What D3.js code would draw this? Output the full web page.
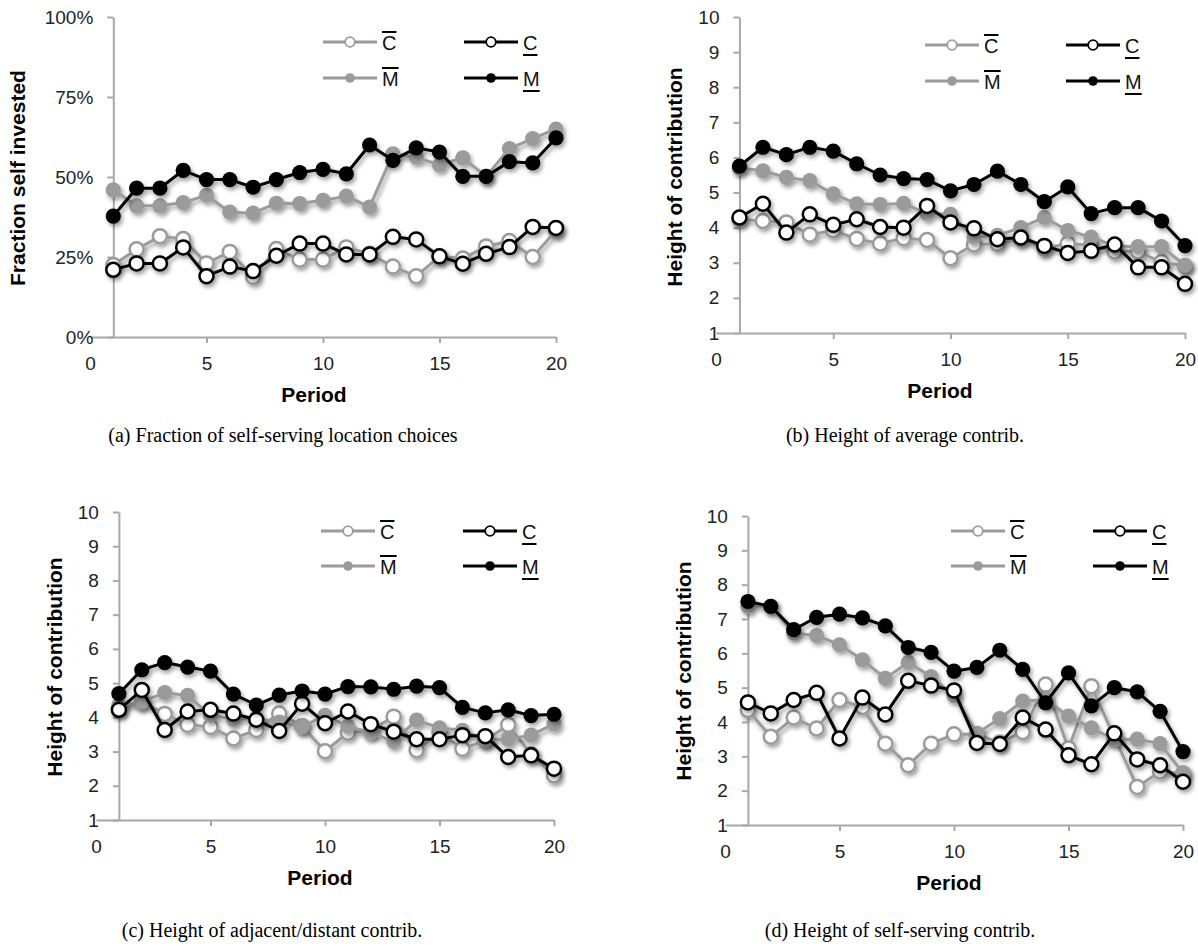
<!DOCTYPE html>
<html>
<head>
<meta charset="utf-8">
<script src="https://cdn.jsdelivr.net/npm/d3@7"></script>
<style>
body { margin: 0; background: #fff; }
text { font-family: "Liberation Sans", Arial, sans-serif; }
</style>
</head>
<body>
<div id="chart"></div>
<script>
var width = 1198, height = 949;

var periods = [1,2,3,4,5,6,7,8,9,10,11,12,13,14,15,16,17,18,19,20];
var xTicks = [0,5,10,15,20];
var fracTicks = [0,25,50,75,100];
var heightTicks = [1,2,3,4,5,6,7,8,9,10];

// legend names: letter + bar position
var seriesKeys = ["Cbar","Mbar","C","M"];
var seriesLetters = {Cbar: "C", Mbar: "M", C: "C", M: "M"};

// (a) fraction self invested, in %
var aCbar = [22.5,27.4,31.5,30.6,23,26.6,18.8,27.5,24.2,24.2,28,26,22,19,25.2,24.5,28.3,30,25,33.3];
var aC    = [21,23,23,28,19,22,20.6,25.4,29.2,29.2,25.8,25.8,31.3,30.5,25.2,22.9,26,28.1,34.4,34.1];
var aMbar = [46,41,41,42,44.3,39,38.7,41.8,41.7,42.7,44,40.6,57.2,56.2,53.8,56,50.2,58.9,62,65];
var aM    = [37.8,46.5,46.5,52.1,49.2,49.2,46.8,49.2,51.4,52.4,51,60,55.2,59.1,57.8,50.2,50.2,54.8,54.4,62.2];

// (b) height of average contribution
var bCbar = [4.24,4.19,4.15,3.8,3.92,3.68,3.55,3.7,3.65,3.13,3.52,3.54,3.68,3.4,3.55,3.5,3.32,3.32,3.02,2.9];
var bC    = [4.29,4.68,3.86,4.38,4.08,4.24,4.02,4.0,4.62,4.15,3.98,3.67,3.72,3.48,3.28,3.34,3.52,2.87,2.87,2.4];
var bMbar = [5.7,5.62,5.43,5.34,4.96,4.68,4.66,4.69,4.4,4.38,3.73,3.78,4.0,4.29,3.92,3.73,3.48,3.46,3.46,2.93];
var bM    = [5.75,6.29,6.08,6.29,6.18,5.82,5.5,5.4,5.37,5.05,5.23,5.61,5.23,4.74,5.16,4.4,4.57,4.57,4.19,3.49];

// (c) height of adjacent/distant contribution
var cCbar = [4.25,4.45,4.1,3.78,3.72,3.38,3.63,4.11,3.75,3.01,3.55,3.62,4.02,3.04,3.55,3.08,3.32,3.78,2.92,2.3];
var cC    = [4.22,4.8,3.63,4.17,4.22,4.11,3.93,3.6,4.4,3.83,4.17,3.8,3.58,3.36,3.36,3.48,3.45,2.84,2.89,2.5];
var cMbar = [4.34,4.45,4.72,4.64,4.06,3.94,3.96,3.86,3.73,4.06,3.74,3.55,3.3,3.92,3.69,3.62,3.34,3.36,3.48,3.81];
var cM    = [4.69,5.39,5.6,5.47,5.35,4.68,4.36,4.65,4.77,4.68,4.9,4.89,4.82,4.91,4.87,4.29,4.13,4.22,4.05,4.09];

// (d) height of self-serving contribution
var dCbar = [4.35,3.57,4.13,3.81,4.64,4.44,3.37,2.74,3.37,3.64,3.64,3.4,3.71,5.09,3.23,5.04,3.57,2.11,2.56,2.5];
var dC    = [4.57,4.25,4.64,4.85,3.52,4.71,4.22,5.2,5.06,4.92,3.39,3.36,4.13,3.78,3.03,2.77,3.67,2.91,2.74,2.26];
var dMbar = [7.37,7.37,6.59,6.52,6.25,5.81,5.27,5.74,5.32,4.77,3.67,4.1,4.61,4.65,4.17,3.83,3.49,3.5,3.37,2.52];
var dM    = [7.51,7.37,6.69,7.05,7.14,7.03,6.8,6.17,6.03,5.48,5.59,6.09,5.53,4.56,5.43,4.47,5.0,4.88,4.31,3.14];

var grey = "#9b9b9b";
var axisColor = "#a8a8a8";

var styles = {
	Cbar: {color: grey, filled: false, bar: "over"},
	Mbar: {color: grey, filled: true, bar: "over"},
	C:    {color: "#000", filled: false, bar: "under"},
	M:    {color: "#000", filled: true, bar: "under"}
};

var svg = d3.select("#chart").append("svg")
	.attr("width", width)
	.attr("height", height)
	.attr("xmlns", "http://www.w3.org/2000/svg");

svg.append("defs").append("filter")
	.attr("id", "shadow")
	.attr("x", "-20%").attr("y", "-20%")
	.attr("width", "140%").attr("height", "140%")
	.append("feDropShadow")
	.attr("dx", 2)
	.attr("dy", 3)
	.attr("stdDeviation", 2)
	.attr("flood-color", "#000")
	.attr("flood-opacity", 0.38);

var panels = [
	{x0: 90, x20: 556, yBot: 337, yTop: 17, domain: [0,100], ticks: fracTicks, fmt: function(d){ return d + "%"; },
	 yTitle: "Fraction self invested", yTitleX: 18, yTitleY: 178,
	 legX: [323, 464], legY: [42, 78],
	 data: {Cbar: aCbar, C: aC, Mbar: aMbar, M: aM},
	 caption: "(a) Fraction of self-serving location choices", capX: 283, capY: 435},
	{x0: 716, x20: 1185, yBot: 333, yTop: 17, domain: [1,10], ticks: heightTicks, fmt: String,
	 yTitle: "Height of contribution", yTitleX: 675, yTitleY: 177,
	 legX: [925, 1066], legY: [45, 81],
	 data: {Cbar: bCbar, C: bC, Mbar: bMbar, M: bM},
	 caption: "(b) Height of average contrib.", capX: 905, capY: 435},
	{x0: 96, x20: 554, yBot: 820, yTop: 512, domain: [1,10], ticks: heightTicks, fmt: String,
	 yTitle: "Height of contribution", yTitleX: 55, yTitleY: 667,
	 legX: [321, 463], legY: [531, 566],
	 data: {Cbar: cCbar, C: cC, Mbar: cMbar, M: cM},
	 caption: "(c) Height of adjacent/distant contrib.", capX: 272, capY: 930},
	{x0: 725, x20: 1183, yBot: 825, yTop: 516, domain: [1,10], ticks: heightTicks, fmt: String,
	 yTitle: "Height of contribution", yTitleX: 684, yTitleY: 671,
	 legX: [951, 1093], legY: [531, 566],
	 data: {Cbar: dCbar, C: dC, Mbar: dMbar, M: dM},
	 caption: "(d) Height of self-serving contrib.", capX: 900, capY: 930}
];

panels.forEach(drawPanel);

function drawPanel(p) {
	var g = svg.append("g");
	var x = d3.scaleLinear().domain([0, 20]).range([p.x0, p.x20]);
	var y = d3.scaleLinear().domain(p.domain).range([p.yBot, p.yTop]);

	// x axis
	var xAxis = g.append("g")
		.attr("transform", "translate(0," + p.yBot + ")")
		.call(d3.axisBottom(x).tickValues(xTicks).tickSize(6).tickSizeOuter(0).tickPadding(14));
	xAxis.selectAll(".tick").filter(function(d){ return d === 0; }).select("line").remove();

	// y axis crosses at period 1
	var yAxis = g.append("g")
		.attr("transform", "translate(" + x(1) + ",0)")
		.call(d3.axisLeft(y).tickValues(p.ticks).tickFormat(p.fmt).tickSize(6).tickSizeOuter(0).tickPadding(14));

	[xAxis, yAxis].forEach(function(a){
		a.select(".domain").attr("stroke", axisColor).attr("stroke-width", 2);
		a.selectAll(".tick line").attr("stroke", axisColor).attr("stroke-width", 2);
		a.selectAll(".tick text")
			.attr("fill", "#222")
			.style("font-size", "19px")
			.style("font-family", "'Liberation Sans', Arial, sans-serif");
	});

	// axis titles
	g.append("text")
		.attr("transform", "translate(" + p.yTitleX + "," + p.yTitleY + ") rotate(-90)")
		.attr("text-anchor", "middle")
		.attr("dy", "0.35em")
		.style("font-size", "21px")
		.style("font-weight", "bold")
		.attr("fill", "#000")
		.text(p.yTitle);

	g.append("text")
		.attr("x", p.x0 + 224)
		.attr("y", p.yBot + 58)
		.attr("dy", "0.35em")
		.attr("text-anchor", "middle")
		.style("font-size", "21px")
		.style("font-weight", "bold")
		.attr("fill", "#000")
		.text("Period");

	// series
	var line = d3.line()
		.x(function(d){ return x(d[0]); })
		.y(function(d){ return y(d[1]); });

	seriesKeys.forEach(function(key){
		var st = styles[key];
		var pts = periods.map(function(t, i){ return [t, p.data[key][i]]; });
		var sg = g.append("g").attr("filter", "url(#shadow)");
		sg.append("path")
			.datum(pts)
			.attr("d", line)
			.attr("fill", "none")
			.attr("stroke", st.color)
			.attr("stroke-width", 3)
			.attr("stroke-linejoin", "round");
		sg.selectAll("circle")
			.data(pts)
			.enter()
			.append("circle")
			.attr("cx", function(d){ return x(d[0]); })
			.attr("cy", function(d){ return y(d[1]); })
			.attr("r", st.filled ? 7.6 : 7)
			.attr("fill", st.filled ? st.color : "#fff")
			.attr("stroke", st.color)
			.attr("stroke-width", st.filled ? 0 : 2.5);
	});

	// legend: row 0 -> Cbar, C ; row 1 -> Mbar, M
	var legendRows = [["Cbar", "C"], ["Mbar", "M"]];
	legendRows.forEach(function(row, r){
		row.forEach(function(key, c){
			var st = styles[key];
			var lx = p.legX[c], ly = p.legY[r];
			var lg = g.append("g");
			lg.append("line")
				.attr("x1", lx).attr("x2", lx + 54)
				.attr("y1", ly).attr("y2", ly)
				.attr("stroke", st.color)
				.attr("stroke-width", 3);
			lg.append("circle")
				.attr("cx", lx + 27).attr("cy", ly)
				.attr("r", 4.8)
				.attr("fill", st.filled ? st.color : "#fff")
				.attr("stroke", st.color)
				.attr("stroke-width", st.filled ? 0 : 1.8);
			var t = lg.append("text")
				.attr("x", lx + 59)
				.attr("y", ly + 8)
				.style("font-size", "20px")
				.attr("fill", "#111")
				.text(seriesLetters[key]);
			var w = t.node().getComputedTextLength();
			var by = st.bar === "over" ? ly - 10 : ly + 13;
			lg.append("line")
				.attr("x1", lx + 59).attr("x2", lx + 59 + w)
				.attr("y1", by).attr("y2", by)
				.attr("stroke", "#000")
				.attr("stroke-width", 2);
		});
	});

	// caption
	svg.append("text")
		.attr("x", p.capX)
		.attr("y", p.capY)
		.attr("dy", "0.35em")
		.attr("text-anchor", "middle")
		.style("font-family", "'Liberation Serif', 'Times New Roman', serif")
		.style("font-size", "20px")
		.attr("fill", "#000")
		.text(p.caption);
}
</script>
</body>
</html>
